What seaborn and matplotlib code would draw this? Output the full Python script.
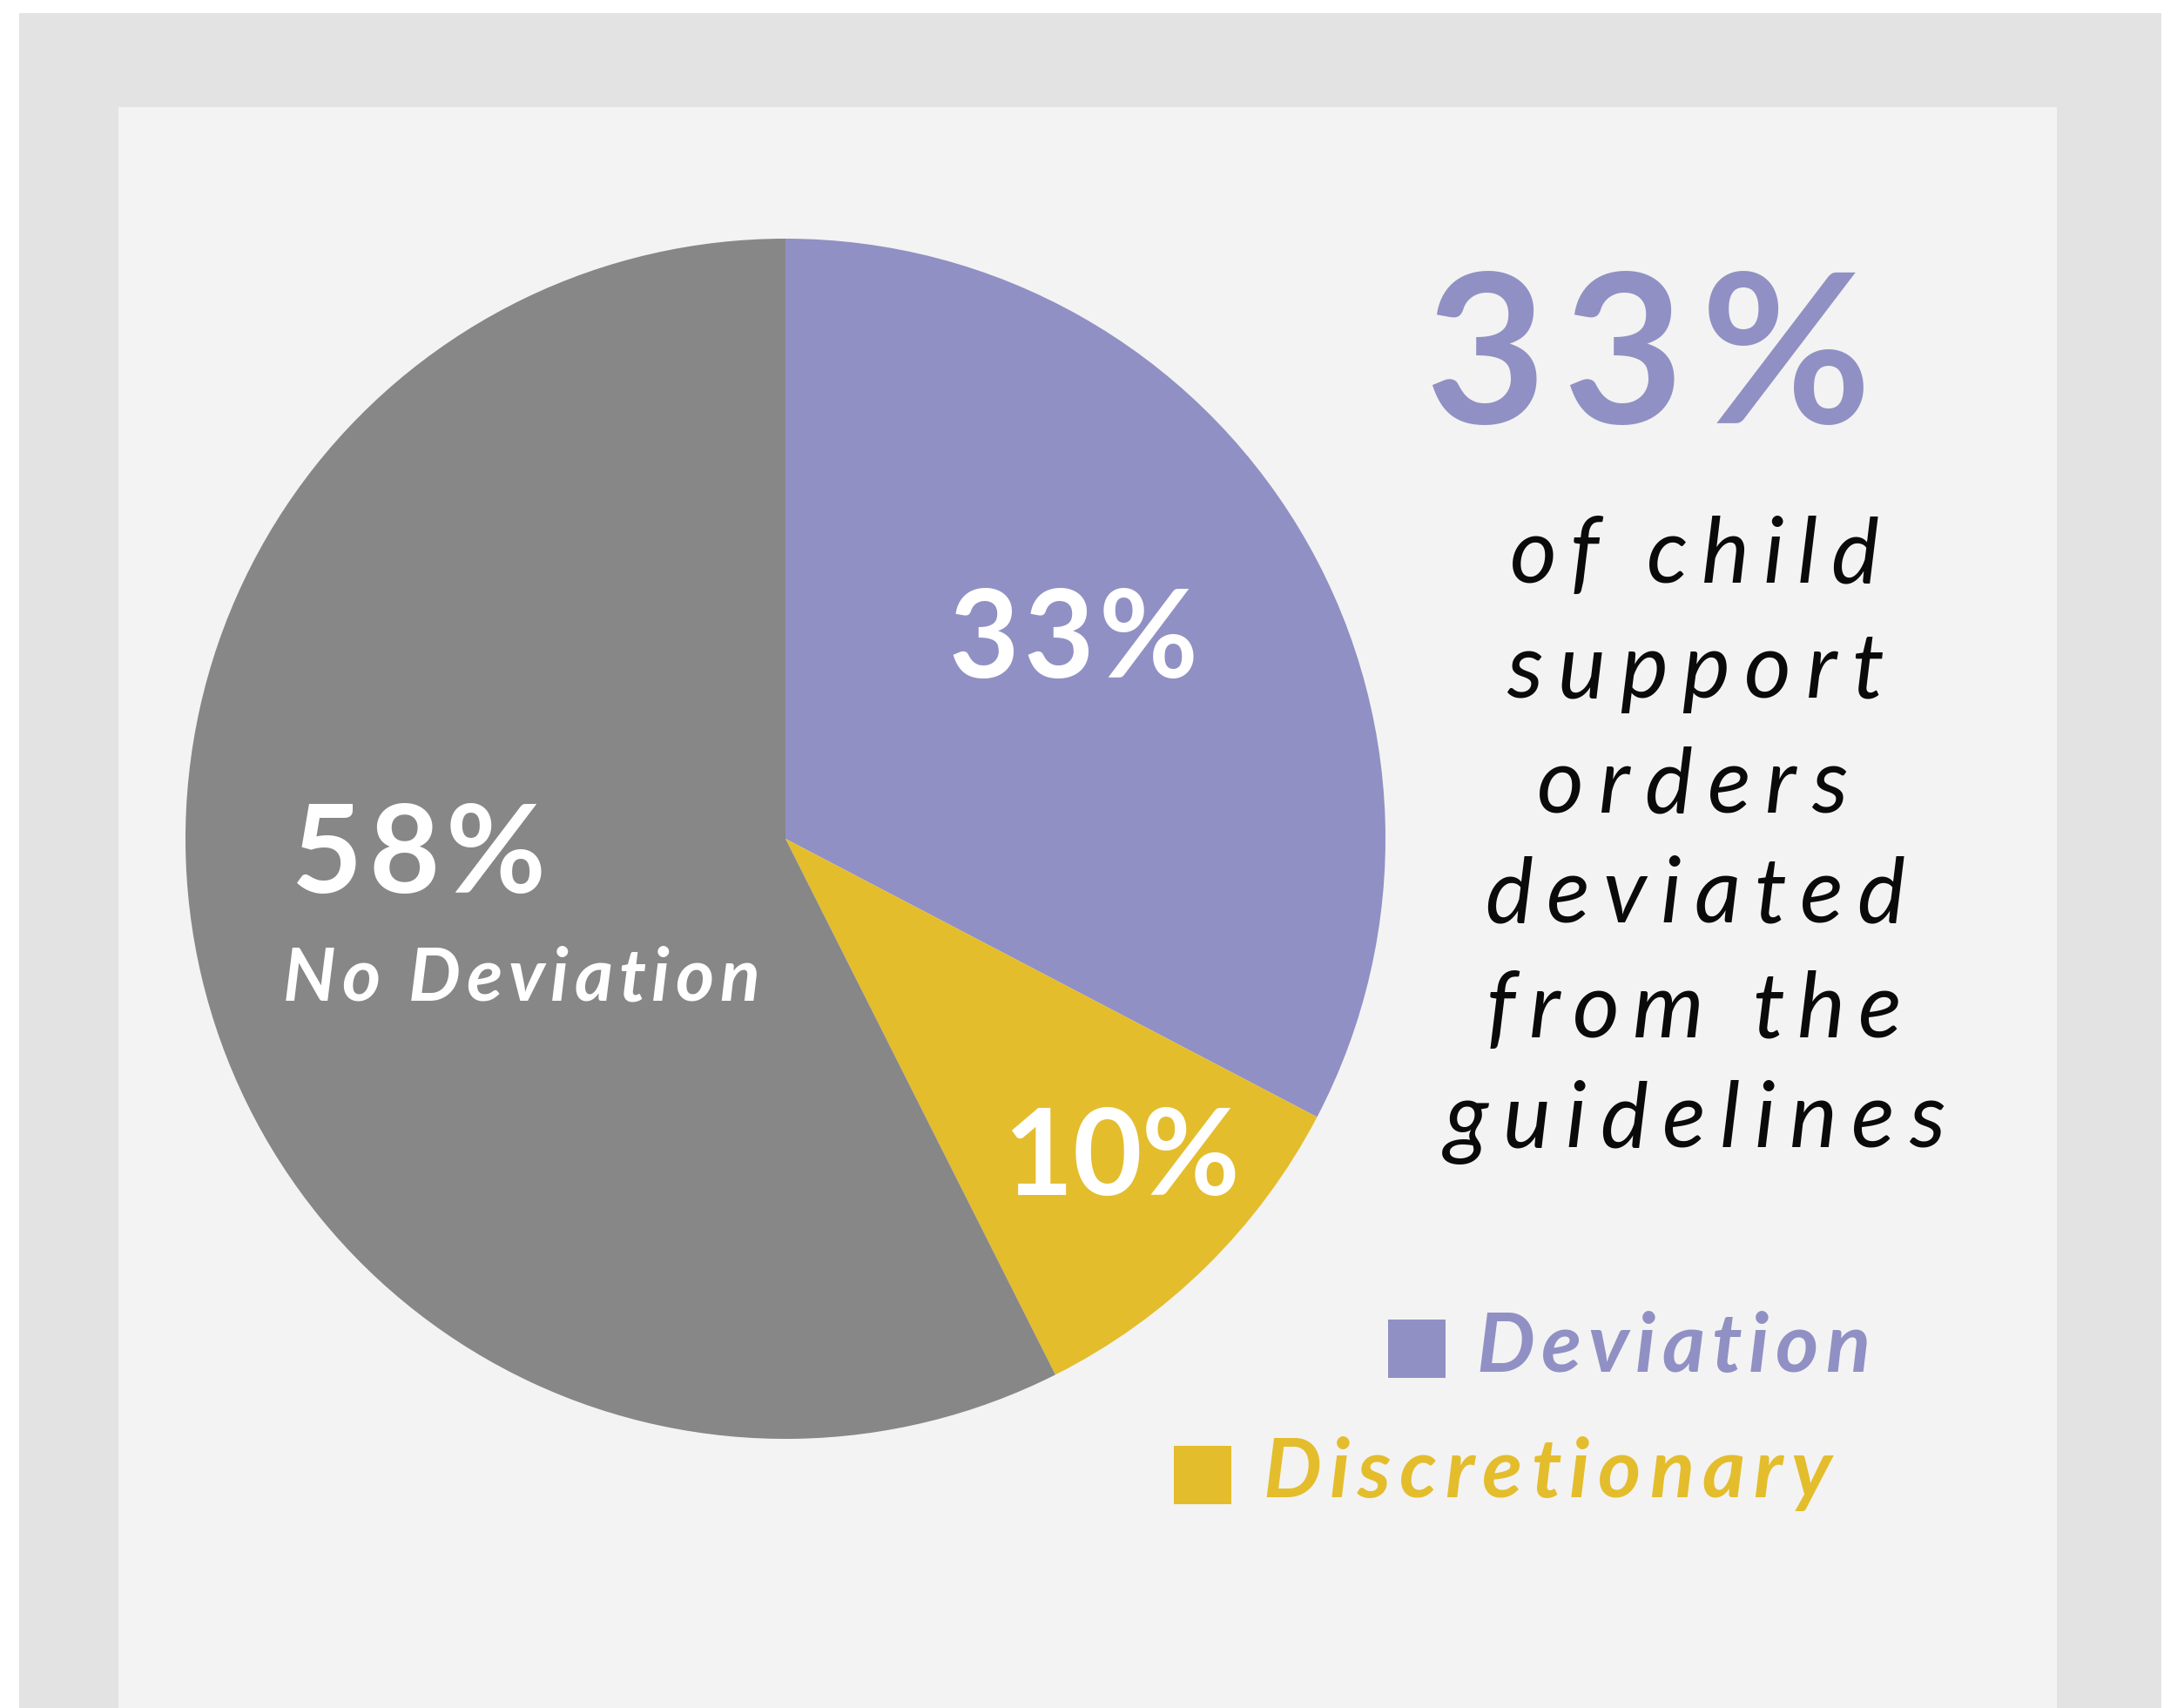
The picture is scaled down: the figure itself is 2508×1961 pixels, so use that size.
import matplotlib
matplotlib.use("Agg")
import matplotlib.pyplot as plt
import seaborn as sns
from matplotlib import font_manager
from matplotlib.font_manager import FontProperties
from matplotlib.ft2font import FT2Font
from matplotlib.patches import Rectangle

# ---- data ----
categories = ["Deviation", "Discretionary", "No Deviation"]
shares = [33, 10, 58]
slice_colors = ["#9190c4", "#e4bd2d", "#878787"]
headline_value = 33
headline_lines = ["of child", "support", "orders", "deviated", "from the", "guidelines"]
legend_items = ["Deviation", "Discretionary"]
legend_colors = ["#9190c4", "#e4bd2d"]

# ---- canvas ----
W, H, DPI = 2508, 1961, 100
sns.set_theme(style="white")
fig = plt.figure(figsize=(W / DPI, H / DPI), dpi=DPI, facecolor="white")


def pixel_axes():
    ax = fig.add_axes([0, 0, 1, 1])
    ax.set_xlim(0, W)
    ax.set_ylim(H, 0)
    ax.axis("off")
    ax.patch.set_alpha(0)
    return ax


bg = pixel_axes()
bg.add_patch(Rectangle((22, 15), 2460, H - 15, color="#e3e3e3", lw=0))
bg.add_patch(Rectangle((136, 123), 2226, H - 123, color="#f3f3f3", lw=0))

# ---- pie ----
cx, cy, r = 902, 963, 689
pie_ax = fig.add_axes([(cx - r) / W, (H - cy - r) / H, 2 * r / W, 2 * r / H])
pie_ax.pie(shares, colors=slice_colors, startangle=90, counterclock=False,
           radius=1, wedgeprops=dict(linewidth=0))
pie_ax.set_xlim(-1, 1)
pie_ax.set_ylim(-1, 1)
pie_ax.set_aspect("equal")
pie_ax.axis("off")

# ---- letter-spaced text helpers ----
tx = pixel_axes()


def font_path(weight, style):
    return font_manager.findfont(FontProperties(family="Lato", weight=weight, style=style))


BOLD = font_path("bold", "normal")
BOLD_IT = font_path("bold", "italic")
ITALIC = font_path("normal", "italic")


def glyph_info(path, size_pt, ch):
    """Advance, left bearing, ink width and top of one glyph, in pixels."""
    f = FT2Font(path, hinting_factor=1)
    f.set_size(size_pt, DPI)
    g = f.load_char(ord(ch))
    return (g.linearHoriAdvance / 65536, g.horiBearingX / 64,
            g.width / 64, g.horiBearingY / 64)


def tracked(s, left, right, baseline, height_px, ref_char, path, color):
    """Draw s with its ink spanning left..right, reference glyph height_px tall."""
    probe = glyph_info(path, 100, ref_char)[3]
    size = 100 * height_px / probe
    info = [glyph_info(path, size, c) for c in s]
    adv = [i[0] for i in info]
    lsb0 = info[0][1]
    last_right = info[-1][1] + info[-1][2]
    natural = sum(adv[:-1]) + last_right - lsb0
    track = (right - left - natural) / (len(s) - 1) if len(s) > 1 else 0
    prop = FontProperties(fname=path, size=size)
    x = left - lsb0
    for c, a in zip(s, adv):
        if c != " ":
            tx.text(x, baseline, c, fontproperties=prop, color=color,
                    ha="left", va="baseline")
        x += a + track


# slice labels
tracked(f"{shares[0]}%", 1093, 1370, 778, 101, "H", BOLD, "white")
tracked(f"{shares[1]}%", 1160, 1418, 1372, 100, "H", BOLD, "white")
tracked(f"{shares[2]}%", 341, 621, 1025, 102, "H", BOLD, "white")
tracked(categories[2], 328, 869, 1149, 61, "H", BOLD_IT, "white")

# headline figure and statement
tracked(f"{headline_value}%", 1643, 2140, 486, 174, "H", BOLD, slice_colors[0])
line_spans = [(1737, 2156, 669), (1729, 2161, 801), (1768, 2120, 933),
              (1707, 2186, 1059), (1711, 2180, 1191), (1656, 2232, 1317)]
for text, (x0, x1, base) in zip(headline_lines, line_spans):
    tracked(text, x0, x1, base, 77, "d", ITALIC, "#0a0a0a")

# legend
legend_layout = [((1594, 1515), (1698, 2143, 1575)),
                 ((1348, 1660), (1453, 2105, 1719))]
for label, color, ((sx, sy), (x0, x1, base)) in zip(legend_items, legend_colors, legend_layout):
    tx.add_patch(Rectangle((sx, sy), 66, 67, color=color, lw=0))
    tracked(label, x0, x1, base, 68, "H", BOLD_IT, color)

fig.savefig("out.png", dpi=DPI, facecolor="white")
